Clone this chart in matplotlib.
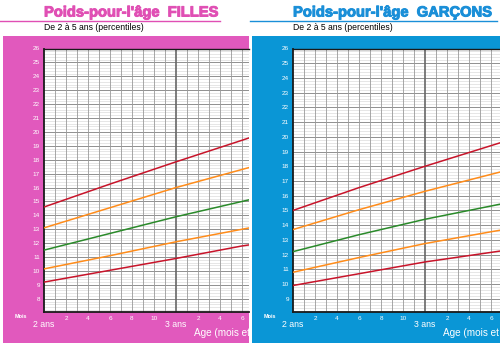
import matplotlib
matplotlib.use("Agg")
import matplotlib.pyplot as plt
import matplotlib.patheffects as pe
import numpy as np

# months after 2 years
months = [0, 6, 12, 18, 24]

# girls weight (kg) curves, from bottom to top
filles_m2 = [9.2, 10.05, 10.9, 11.8, 12.5]
filles_m1 = [10.15, 11.1, 12.1, 13.0, 13.9]
filles_med = [11.5, 12.7, 13.9, 15.0, 16.1]
filles_p1 = [13.1, 14.55, 16.0, 17.3, 18.6]
filles_p2 = [14.6, 16.25, 17.85, 19.4, 21.0]

# boys weight (kg) curves
garcons_m2 = [9.9, 10.7, 11.5, 12.15, 12.8]
garcons_m1 = [10.8, 11.8, 12.75, 13.55, 14.3]
garcons_med = [12.2, 13.35, 14.4, 15.3, 16.2]
garcons_p1 = [13.7, 15.05, 16.3, 17.45, 18.6]
garcons_p2 = [15.0, 16.55, 18.0, 19.4, 20.8]

month_ticks = [2, 4, 6, 8, 10, 14, 16, 18]
month_labels = ["2", "4", "6", "8", "10", "2", "4", "6"]

PINK = "#e159bd"
PINK_T = "#e04fb4"
BLUE = "#0a96d6"
BLUE_T = "#1a8fd8"
RED = "#c8142a"
ORANGE = "#ff8c1a"
GREEN = "#2a8a2a"

W, H = 500, 355
fig = plt.figure(figsize=(5, 3.55), dpi=100)


def box(x0, y0, x1, y1):
    # pixel box (top-left origin) -> figure fraction rect
    return [x0 / W, 1 - y1 / H, (x1 - x0) / W, (y1 - y0) / H]


def panel(xp, xe, xa, color, tcolor, title, ymin, yticks, series):
    # coloured background panel
    bg = fig.add_axes(box(xp, 36, xe, 342.5))
    bg.set_facecolor(color)
    bg.set_xlim(xp, xe)
    bg.set_ylim(342.5, 36)
    bg.set_xticks([])
    bg.set_yticks([])
    for s in bg.spines.values():
        s.set_visible(False)
    bg.text(xa - 23, 317, "Mois", color="white", fontsize=4, fontweight="bold",
            ha="center", va="center", family="Liberation Sans")
    bg.text(xa, 324.5, "2 ans", color="white", fontsize=6.3, ha="center",
            va="center", family="Liberation Sans")
    bg.text(xa + 132, 324.5, "3 ans", color="white", fontsize=6.3, ha="center",
            va="center", family="Liberation Sans")
    bg.text(xa + 150, 333, "Age (mois et années)", color="white", fontsize=7.2,
            ha="left", va="center", family="Liberation Sans", clip_on=True)

    # chart
    xend = min(xe, W)
    ax = fig.add_axes(box(xa, 48.5, xend, 312))
    xmax = (xend - xa) / 11.0
    ax.set_xlim(0, xmax)
    ax.set_ylim(ymin, 26)
    ax.set_facecolor("white")
    for v in np.arange(np.ceil(ymin / 0.2) * 0.2, 26, 0.2):
        ax.axhline(v, color="#dcdcdc", lw=0.5, zorder=1)
    for v in range(int(np.ceil(ymin)), 26):
        ax.axhline(v, color="#909090", lw=0.7, zorder=2)
    for m in range(1, int(xmax) + 1):
        if m == 12:
            ax.axvline(m, color="#666666", lw=1.2, zorder=2)
        else:
            ax.axvline(m, color="#999999", lw=0.6, zorder=2)
    for ys, c in series:
        ax.plot(months, ys, color=c, lw=1.1, zorder=3)
    ax.set_yticks(yticks)
    ax.set_yticklabels([str(v) for v in yticks])
    ax.set_xticks(month_ticks)
    ax.set_xticklabels(month_labels)
    ax.tick_params(length=0, colors="white", labelsize=4.6, pad=3)
    for lab in ax.get_xticklabels() + ax.get_yticklabels():
        lab.set_family("Liberation Sans")
    ax.spines["left"].set_linewidth(1.3)
    ax.spines["bottom"].set_linewidth(1.3)
    ax.spines["top"].set_linewidth(1.0)
    ax.spines["right"].set_visible(False)
    for s in ax.spines.values():
        s.set_color("#1a1a1a")

    # heading
    fig.text(xa / W, 1 - 12.5 / H, title, color=tcolor, fontsize=10.6,
             fontweight="bold", ha="left", va="center", family="Liberation Sans",
             path_effects=[pe.withStroke(linewidth=0.7, foreground=tcolor)])
    fig.text(xa / W, 1 - 27 / H, "De 2 à 5 ans (percentiles)", color="black",
             fontsize=6.2, ha="left", va="center", family="Liberation Sans")


panel(3, 248.5, 44, PINK, PINK_T, "Poids-pour-l'âge  FILLES", 7.05,
      list(range(8, 27)),
      [(filles_m2, RED), (filles_m1, ORANGE), (filles_med, GREEN),
       (filles_p1, ORANGE), (filles_p2, RED)])
panel(252, 502, 293, BLUE, BLUE_T, "Poids-pour-l'âge  GARÇONS", 8.1,
      list(range(9, 27)),
      [(garcons_m2, RED), (garcons_m1, ORANGE), (garcons_med, GREEN),
       (garcons_p1, ORANGE), (garcons_p2, RED)])

# title underlines
fig.add_artist(plt.Line2D([0, 220 / W], [1 - 21 / H] * 2, color=PINK_T, lw=1.0))
fig.add_artist(plt.Line2D([250 / W, 497 / W], [1 - 21 / H] * 2, color=BLUE_T, lw=1.0))

fig.savefig("out.png", dpi=100)
